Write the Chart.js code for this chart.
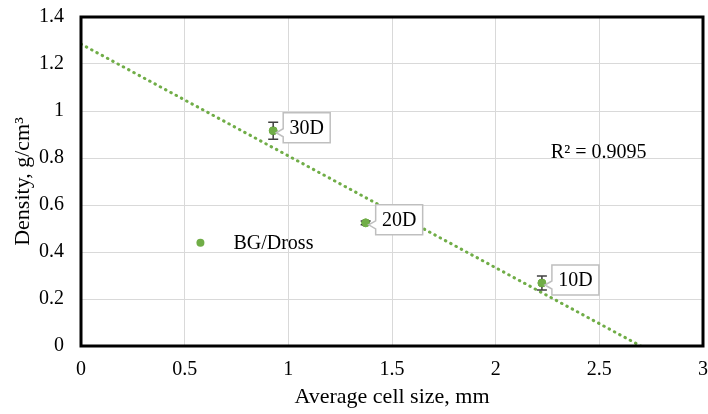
<!DOCTYPE html>
<html>
<head>
<meta charset="utf-8">
<script src="https://cdn.jsdelivr.net/npm/chart.js@4.4.1/dist/chart.umd.min.js"></script>
<style>
  html, body { margin: 0; padding: 0; background: #fff; }
  #wrap { width: 708px; height: 414px; position: relative; }
</style>
</head>
<body>
<div id="wrap"><canvas id="chart"></canvas></div>
<script>
// --- data ---
const sampleLabels = ['30D', '20D', '10D'];
const cellSize     = [0.927, 1.373, 2.223];   // mm
const density      = [0.916, 0.524, 0.268];   // g/cm3
const densityErr   = [0.036, 0.008, 0.030];

// linear trendline end points (Excel dotted trendline)
const trendX = [0, 2.7];
const trendY = [1.285, 0];

const seriesName = 'BG/Dross';
const rSquared   = 'R² = 0.9095';

const GREEN = '#70ad47';
const FONT  = '"Liberation Serif", "Times New Roman", serif';

// tick labels the way Excel prints them: 0, 0.5, 1, 1.5 ...
const tickFmt = v => String(+v.toFixed(1));

// --- error bars, callout labels, legend, R² text and frame ---
const decorPlugin = {
  id: 'decor',
  afterDatasetsDraw(chart) {
    const { ctx, chartArea: a, scales: { x, y } } = chart;
    ctx.save();

    // error bars
    ctx.strokeStyle = '#404040';
    ctx.lineWidth = 1.5;
    cellSize.forEach((cx, i) => {
      const px = x.getPixelForValue(cx);
      const top = y.getPixelForValue(density[i] + densityErr[i]);
      const bot = y.getPixelForValue(density[i] - densityErr[i]);
      ctx.beginPath();
      ctx.moveTo(px, top); ctx.lineTo(px, bot);
      ctx.moveTo(px - 5, top); ctx.lineTo(px + 5, top);
      ctx.moveTo(px - 5, bot); ctx.lineTo(px + 5, bot);
      ctx.stroke();
    });

    // redraw points on top of the error bars
    ctx.fillStyle = GREEN;
    cellSize.forEach((cx, i) => {
      ctx.beginPath();
      ctx.arc(x.getPixelForValue(cx), y.getPixelForValue(density[i]), 4, 0, Math.PI * 2);
      ctx.fill();
    });

    // callout labels
    ctx.font = '20px ' + FONT;
    ctx.textBaseline = 'middle';
    ctx.textAlign = 'center';
    sampleLabels.forEach((lab, i) => {
      const px = x.getPixelForValue(cellSize[i]);
      const py = y.getPixelForValue(density[i]);
      const w = 47, h = 30;
      const left = px + 10, topY = py - 3 - h / 2;
      ctx.beginPath();
      ctx.moveTo(left, topY);
      ctx.lineTo(left + w, topY);
      ctx.lineTo(left + w, topY + h);
      ctx.lineTo(left, topY + h);
      ctx.lineTo(left, topY + h - 6);
      ctx.lineTo(px + 3, py + 2);
      ctx.lineTo(left, topY + h - 14);
      ctx.closePath();
      ctx.fillStyle = '#fff';
      ctx.fill();
      ctx.strokeStyle = '#bfbfbf';
      ctx.lineWidth = 1.5;
      ctx.stroke();
      ctx.fillStyle = '#000';
      ctx.fillText(lab, left + w / 2, topY + h / 2 + 1);
    });

    // legend placed inside the plot
    const lx = x.getPixelForValue(0.576), ly = y.getPixelForValue(0.439);
    ctx.fillStyle = GREEN;
    ctx.beginPath();
    ctx.arc(lx, ly, 4, 0, Math.PI * 2);
    ctx.fill();
    ctx.fillStyle = '#000';
    ctx.textAlign = 'left';
    ctx.fillText(seriesName, lx + 33, ly + 1);

    // R² label
    ctx.fillText(rSquared, x.getPixelForValue(2.266), y.getPixelForValue(0.823));

    // black frame round the plot area
    ctx.strokeStyle = '#000';
    ctx.lineWidth = 3;
    ctx.strokeRect(a.left, a.top, a.right - a.left, a.bottom - a.top);
    ctx.restore();
  },
};

new Chart(document.getElementById('chart'), {
  type: 'scatter',
  data: {
    datasets: [
      {
        label: seriesName,
        data: cellSize.map((v, i) => ({ x: v, y: density[i] })),
        backgroundColor: GREEN,
        borderColor: GREEN,
        pointRadius: 4,
      },
      {
        label: 'Linear trend',
        type: 'line',
        data: trendX.map((v, i) => ({ x: v, y: trendY[i] })),
        borderColor: GREEN,
        borderWidth: 3,
        borderDash: [0.5, 5.5],
        borderCapStyle: 'round',
        pointRadius: 0,
        fill: false,
      },
    ],
  },
  options: {
    responsive: true,
    maintainAspectRatio: false,
    animation: false,
    layout: { padding: { top: 17, right: 2, left: 0, bottom: 0 } },
    plugins: { legend: { display: false }, tooltip: { enabled: false } },
    scales: {
      x: {
        type: 'linear', min: 0, max: 3,
        grid: { color: '#d9d9d9', lineWidth: 1, drawTicks: false },
        border: { display: false },
        ticks: { stepSize: 0.5, color: '#000', padding: 12, callback: tickFmt,
                 font: { family: FONT, size: 20 } },
        title: {
          display: true, text: 'Average cell size, mm', color: '#000',
          font: { family: FONT, size: 22 }, padding: { top: 0, bottom: 4 },
        },
        afterFit(s) { s.height = 68; s.paddingLeft = 0; s.paddingRight = 0; },
      },
      y: {
        min: 0, max: 1.4,
        grid: { color: '#d9d9d9', lineWidth: 1, drawTicks: false },
        border: { display: false },
        ticks: { stepSize: 0.2, color: '#000', padding: 17, callback: tickFmt,
                 font: { family: FONT, size: 20 } },
        title: {
          display: true, text: 'Density, g/cm³', color: '#000',
          font: { family: FONT, size: 22 }, padding: { top: 10, bottom: 0 },
        },
        afterFit(s) { s.width = 81; s.paddingTop = 0; s.paddingBottom = 0; },
      },
    },
  },
  plugins: [decorPlugin],
});
</script>
</body>
</html>
